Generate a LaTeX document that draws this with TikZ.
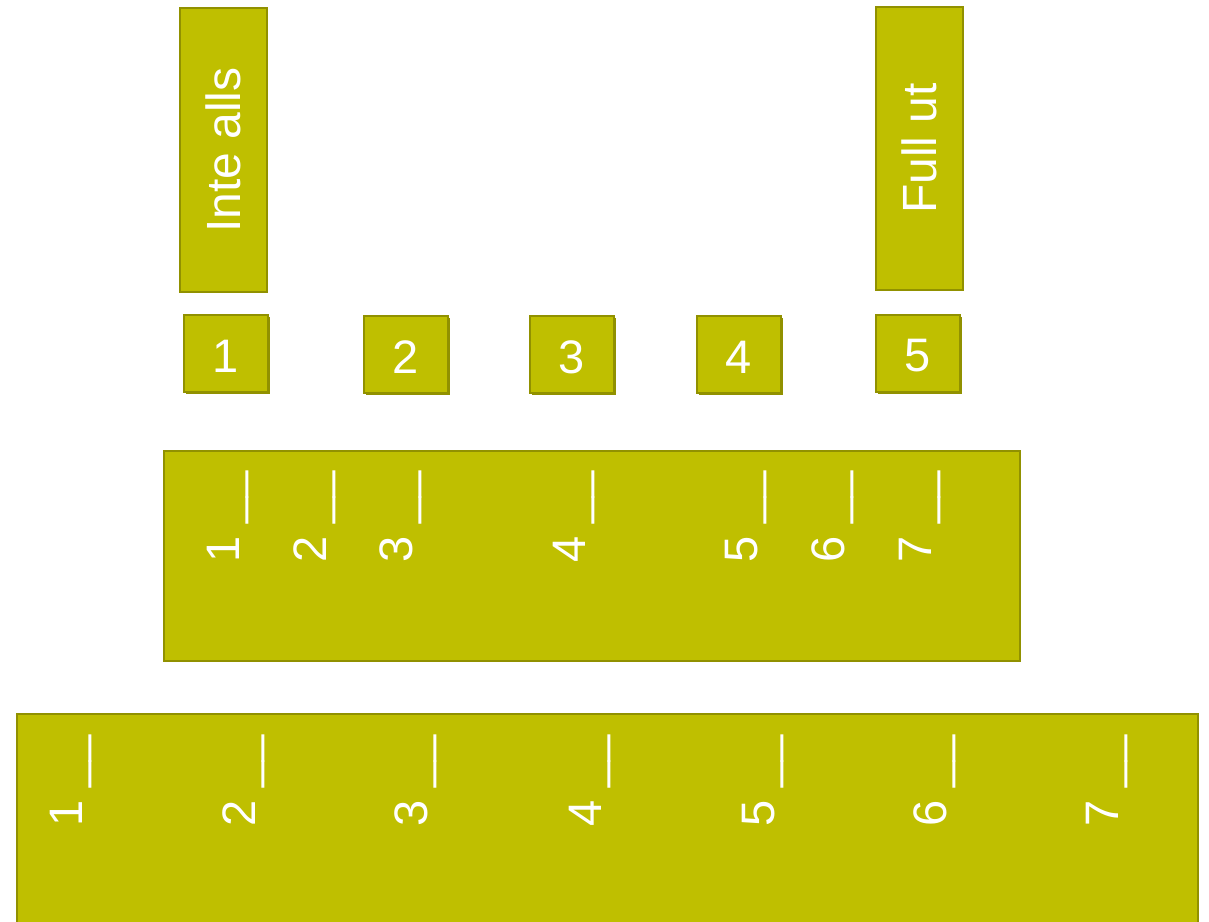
\documentclass[tikz,border=0pt]{standalone}
\usepackage{fontspec}
\setmainfont{Liberation Sans}
\usetikzlibrary{shadows}
\definecolor{olfill}{RGB}{191,191,0}
\definecolor{oldark}{RGB}{145,145,0}
\tikzset{
  panel/.style={draw=oldark, fill=olfill, line width=2pt, inner sep=0pt, outer sep=0pt, anchor=north west},
  smallbox/.style={panel, minimum width=84pt, minimum height=77pt,
     drop shadow={shadow xshift=2pt, shadow yshift=-2pt, fill=oldark, opacity=1}},
  boxtext/.style={text=white, font=\fontsize{48}{57}\selectfont, inner sep=0pt, rotate=90},
  numtext/.style={text=white, font=\fontsize{47}{56}\selectfont, inner sep=0pt},
  tick/.style={text=white, font=\fontsize{47}{56}\selectfont, rotate=90, anchor=base west, inner sep=0pt}
}
\begin{document}
\begin{tikzpicture}[x=1pt,y=-1pt]
\useasboundingbox (0,0) rectangle (1209,921);
% top tall boxes
\node[panel, minimum width=87pt, minimum height=284pt] (inte) at (180,8) {};
\node[boxtext] (intetxt) at (inte.center) {Inte alls};
\node[panel, minimum width=87pt, minimum height=283pt] (full) at (876,7) {};
\node[boxtext] (fulltxt) at (full.center) {Full ut};
% small numbered boxes
\node[smallbox] (s1) at (184,315) {};
\node[smallbox] (s2) at (364,316) {};
\node[smallbox] (s3) at (530,316) {};
\node[smallbox] (s4) at (697,316) {};
\node[smallbox] (s5) at (876,315) {};
\foreach \i in {1,...,5}{
  \node[numtext, yshift=-2.5pt] (s\i t) at (s\i.center) {\i};
}
% middle scale box
\node[panel, minimum width=856pt, minimum height=210pt] (mid) at (164,451) {};
\foreach \x [count=\i] in {239,326,412,585,757,844,931}{
  \node[tick] (m\i) at (\x,563) {\i\ \_\_};
}
% bottom scale box
\node[panel, minimum width=1181pt, minimum height=220pt] (bot) at (17,714) {};
\foreach \x [count=\i] in {82,255,427,601,774,946,1118}{
  \node[tick] (b\i) at (\x,827) {\i\ \_\_};
}
\end{tikzpicture}
\end{document}
